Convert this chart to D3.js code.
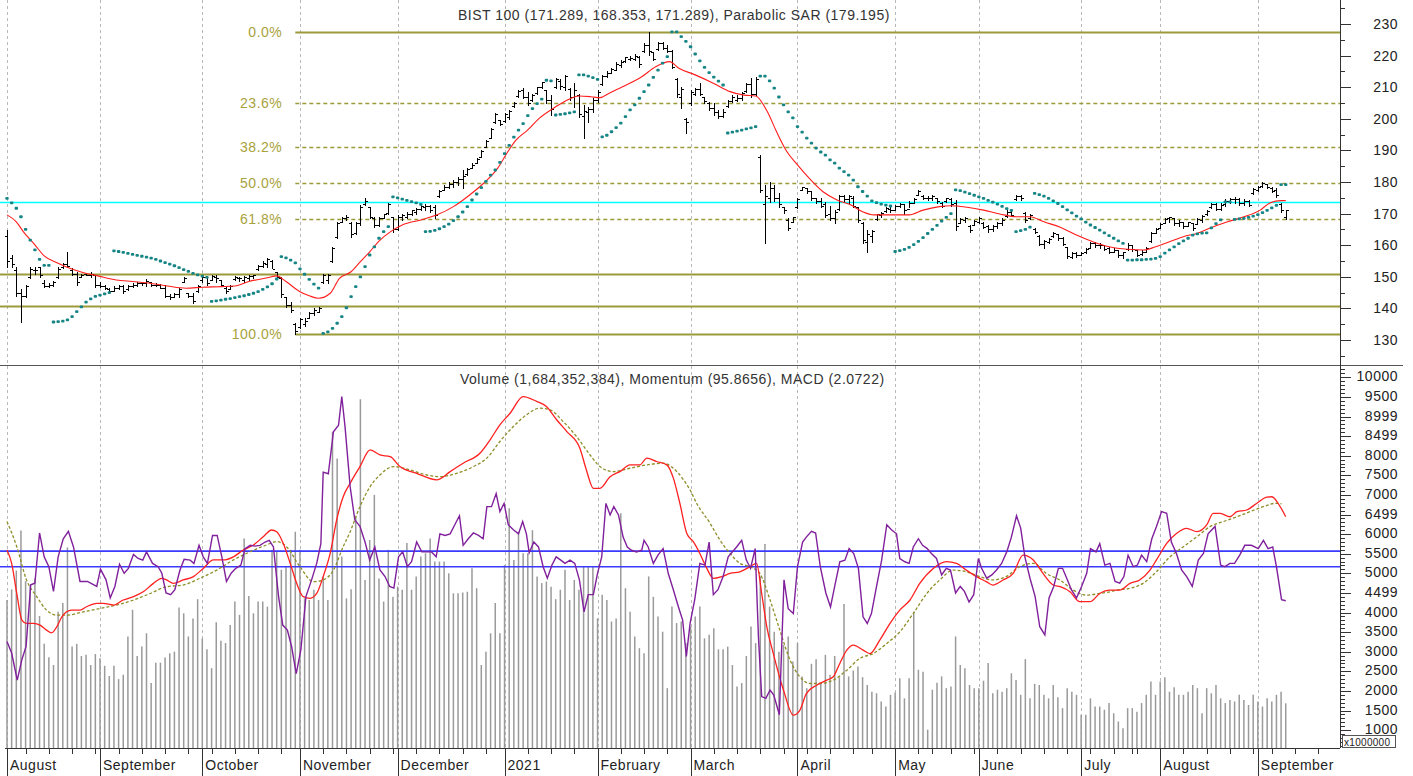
<!DOCTYPE html>
<html>
<head>
<meta charset="utf-8">
<script src="https://cdn.jsdelivr.net/npm/d3@7"></script>
<style>
  body { margin: 0; background: #fff; }
  svg { display: block; }
  text { font-family: "Liberation Sans", Arial, sans-serif; letter-spacing: 0.5px; }
</style>
</head>
<body>
<svg id="chart" width="1413" height="776"></svg>
<script>
// ---- time axis (bar index of each month start / weekly tick) ----
var monthStarts = [0, 20, 42, 63, 84, 107, 127, 147, 170, 191, 209, 231, 248, 269]
var monthLabels = ["August", "September", "October", "November", "December", "2021", "February", "March", "April", "May", "June", "July", "August", "September"]
var weekTicks = [4,9,14,19,24,29,34,39,44,49,54,59,63,68,73,78,83,88,93,98,103,107,112,117,122,127,132,137,142,147,152,157,162,167,172,177,182,186,191,196,199,203,208,213,218,223,228,233,238,242,243,248,253,258,263,268,272,277,282]

// ---- BIST 100 daily bars (x1000 pts) ----
var highs = [
  164.8,157,153,146,147.4,153,153,153,149,148,148.8,153.2,154.4,157.8,152.8,151.5,151,151,151.5,150.6,
  148.5,147.5,146.6,147,147.5,147.5,147.3,148,148.5,148.5,149.2,148.5,148,147.6,147.3,144.5,145,146.5,150,145,145,147.3,
  150.6,150.3,150.6,150.6,149,146.8,147.5,150.3,150,150.3,150.6,150.6,153.7,155,156,155.3,151.6,150,143.7,142,135.4,
  137,137,139,140,140.4,150.9,150.9,159.5,167.4,169,169.5,167.4,167.4,172.7,175,172.2,169,169,170,173.4,169,
  169.6,170,170.6,171.2,171.7,172.7,173,172.7,172.7,177.5,179,180,180.6,181.5,183.8,184.4,186,187.6,190,193.3,197,201.8,199.6,
  201.8,202.8,205.4,209,209.7,208.6,208,210.2,211.7,209,207.5,212.9,212.5,213.9,209.7,211.3,208,204.4,203.8,206.6,
  209,213.9,215,216,218,218.6,219.7,220,220.5,220,224,227.5,221.2,224.4,224.4,223.5,221.8,212.9,210.2,200.3,
  209,209.7,211.3,207,205.4,204.9,202.8,203,206,207.5,207.5,208.6,211.2,213,213.3,188.5,179,180,179,176.5,172.2,168.5,169,
  175,178.5,178,177,175,175,173.8,172.5,171,175.9,176,176,175.5,172.2,167.4,164.8,164.8,170,170.6,172.2,172.5,
  172.7,173.5,173,174,174.8,177.5,175.8,175.5,176,175,173.8,175,175,174.3,168.5,169,166.4,168,
  169,167.4,166.4,166.4,167.5,168.5,171,171,176,176,170.6,170,165.4,163.2,161.6,162.3,164.3,163.5,162.7,159.5,158,158,
  158,159,161.1,161.1,160.6,160,159.5,159,158.5,158,160.6,160,158.5,158.5,159.5,164.3,165.4,
  167,168.5,169,168.5,168,167.5,167.5,167,168.5,169.6,171,173.3,173.5,173.3,174.5,175,175.3,174.8,174.5,174.3,178,
  178.8,180,179.5,178.3,178,173.3,171.289
]
var lows = [
  153.1,153,144,135.7,143.6,149.6,151,150,146.8,146.8,147,149.6,152.8,153,150.6,147.4,150,150.5,150,146.8,
  146.9,146,145,145.5,146,145,145.8,146.8,147.2,147.5,147.2,147,147,146.3,143.7,143,143.5,143.5,148.5,143.5,141.8,145.3,
  148.5,147.4,149,148.5,147,145,146,149,148.8,148.5,149,149.6,152.2,153,153,152.8,149.5,143.7,140.5,138.8,131.9,
  133.8,134.5,137,137.8,138.9,148,148,154.8,162.2,167.4,168,162.7,163.5,166.4,172.7,168.5,165.9,166,168.6,170,164.3,
  164.8,168,168.5,169.5,170,171,171,170.5,168.7,175.4,177.5,178,178.5,179,178,182.2,184.5,186,187.9,191,193.9,198.7,198,
  199,200,203.8,207,206.6,204.4,205.5,208,209.6,205,201.2,209.7,209.3,209,206,203.7,200.6,194,199,202,
  205.4,210.7,213.3,214.4,215.4,216.5,218,218.6,218.6,216.5,221.2,220.2,218.6,221.8,222,221,216,207,203.3,195.5,
  204.4,207.5,207.5,204.9,202.8,201.2,200.2,200.5,203.8,205.4,205.5,206,208.6,207,207.5,176.8,160.7,173.8,174,172.2,170.1,164.8,167.4,
  171.8,177.5,176.5,174.3,173.4,172,169,168,167,171,173.8,173.5,172,167.4,160.6,158,161.1,168,169,170.6,170.5,
  171.1,172,170,172,173.3,175.9,174.5,174.3,174.2,173.5,172.2,173.8,172.5,164.8,166.9,167.4,164.3,166.4,
  167,165.3,164.3,164.5,165.5,166.4,169,169.2,174.3,174.3,167.4,168.2,163.9,160,159.1,160.7,162.7,161.8,160,155.9,155.9,156.3,
  156.9,157.5,159,159.5,159,158.5,157.4,157.7,156.4,155.9,158.5,158.3,156.5,157,158,161.1,163.8,
  165.4,166.9,167.4,166.5,166,165.5,166,164.8,166.7,167.4,169.5,171.7,171,171.1,172.5,173.5,173.3,172.7,172.7,172.5,176.3,
  177.2,178.5,178,176.8,175.4,170.6,168.353
]
var opens = [
  163,156,152,145,144,150,152,153,148,147,147.5,150,153,154,152,151,150,150.8,150.5,150.5,
  147.5,147,146,145.5,146.5,147,146,147,147.5,148,148,148.5,147.5,147.3,146.5,144,143.5,144.5,148.5,145,144,145.5,
  149,150,149,150,149,146.5,146,149.2,149.5,149,149.5,150.3,152.5,153.5,154,155,151.5,149.5,143.5,141,135,
  134,135,137,138.5,139,148.2,149,155,162.5,167.5,168.5,167,164,167,173,172,168.5,166.5,168.6,170.2,169,
  165,169,169,170,170.5,171.5,172,172.5,172,175.5,177.5,178.5,179.5,180,181,182.5,184.5,186,188,191,194,199,199.5,
  199.2,200.5,204,207.2,209,207,206,208.2,210,209,206,210,212,210,209.5,207,207.5,201,202,203,
  206,211,213.5,214.5,215.5,217,218.2,219,219,219.5,221.5,223.5,221,222,224,222.5,221.5,212.5,207,200,
  205,208,209.5,207,205,203.5,202,201,204,205.5,206,206.5,208.8,211,208,188,173,175,178,175,172,168,167.5,
  172,177.6,178,177,175,174,173,170,168.5,171.5,175.5,174.5,175,172,167,161,163,168.2,169.5,170.8,171.5,
  171.2,172.5,173,171.5,173.5,176,175.5,175,174.8,175,173.5,174,174.5,173.5,167,168,166,166.5,
  167.5,167,166,165,166,167,169.2,170.5,174.5,175.5,170.3,168.5,165.2,163,160.5,161,162.8,163.5,162.3,159.3,156.2,157.5,
  157,157.8,159.2,160.8,160,160,159,158,158.5,157,158.7,160,158.5,157.2,158,161.2,164,
  165.5,167,168.5,168.5,167,167.5,166,167,166.8,168,169.8,172,173,171.5,173,174,174.5,174.5,173.3,174,176.5,
  177.5,178.6,179.5,178.2,177.5,173,169
]
var closes = [
  155,154,145,144,147,152.5,152,150.5,147,147.5,148.5,152.5,154,153.5,151,148.5,150.7,150.6,151,147.5,
  147,146.5,145.5,146.5,147,145.5,147,147.5,148,148,148.8,147.5,147.3,146.5,144,143.5,144.5,146,149.5,144,142.5,147,
  150,148,150.3,149.5,147.5,145.5,147,150,149.5,150,150.3,150.5,153.3,154.5,155.5,152.5,150,144.5,141,139.5,133,
  136.5,136,138.5,139.5,140,150.5,150.5,159,167,168.5,169,163.5,167,172,174,169,166.5,168.5,169.8,173,165,
  169,169.5,170,171,171.5,172.5,172.5,171,169.5,177,178.5,179.5,180,181,182,184,185.5,187.3,189.7,193,196.7,201.5,198.5,
  201.5,202.5,205,208.8,207,205,207.5,210,211.5,206,203,212.5,210.5,213.5,207,209,201.5,202.5,203,206,
  208.5,213.5,214.5,215.8,217.5,218,219.5,219.2,220,217.5,223.5,221.5,219,224,222.5,221.5,216.5,208,209.5,199,
  208.5,209.5,208,205.5,203.5,202,201,202,205.5,207,206.5,208.2,211,208,212.5,177.5,175.5,178,175,173,171,165.5,168.8,
  174.5,178.3,177,174.8,174,172.5,169.5,168.5,170.5,175.5,174.5,175.5,172.5,168,161.5,163.5,164.5,169.8,170.3,171.8,171,
  172.5,173,171,173.5,174.5,177.2,175,174.8,175.5,174,172.5,174.8,173,166,168.2,168.7,164.8,167.7,
  168.5,165.8,165,166,167,168,170.5,169.5,175.5,174.8,168,169.5,164.2,160.5,161.2,162,164,162.2,160.5,156.5,157.5,156.8,
  157.5,158.7,160.8,160,160.2,158.8,158,158.6,156.8,157.8,160.2,158.7,157,158,159.2,164,165.2,
  166.8,168.2,168.8,167,167.5,166,167.2,165.5,168.3,169.3,170.8,173,171.5,172.8,174,174.5,174.5,173.2,174,172.8,177.8,
  178.5,179.8,178.4,177.2,175.8,171,171.289
]

// Parabolic SAR, one value per bar
var sar = [
  174.8,173.4,171.7,169,165,161.6,158.5,155.5,153.6,153.6,
  135.7,135.8,136,136.4,137.4,139,140.5,142,143,143.8,144.2,144.6,145,
  158.2,158,157.7,157.4,157.1,156.8,156.5,156.2,155.9,155.5,155,154.5,154,153.5,152.9,152.3,151.7,151.1,150.6,150.2,149.8,
  142.2,142.4,142.6,142.9,143.1,143.4,143.7,144,144.4,144.8,145.3,146,146.8,147.8,149.3,
  156.4,156,155.3,154.4,152.5,150.8,149.2,147.7,146.4,
  132.1,132.6,133.7,135.3,137.4,140.2,143.7,146.9,150,153.2,156.9,159.5,162.2,164.3,165.9,
  175.3,175,174.6,174.2,173.8,173.4,172.9,
  164.3,164.4,164.7,165.2,165.9,166.7,167.8,169,170.5,172.2,174.3,176.2,178.2,180.2,182.2,183.8,186.2,189,191.6,194.2,196.4,198.5,201,203.2,204.8,206.2,
  212.2,212,
  201.2,201.4,201.6,201.9,202.2,
  213.9,213.9,213.5,213,212.5,
  194.3,194.8,195.9,197.2,198.6,200.7,202.8,204.4,206.5,208.6,210.7,213.1,215.4,217.6,219.7,
  227.5,227.5,226,224.5,222.8,220.5,218.3,216.3,214.6,213.2,211.9,210.7,
  195.5,195.8,196.1,196.4,196.8,197.1,197.5,
  213.5,213.5,212,209.7,206.9,204.4,202.2,200.3,197.5,195.8,193.9,192.3,190.7,189.5,188.5,187,186,184.4,183.3,182.2,180.6,178.5,177,175.5,174,173.5,173,172.7,172.4,
  158,158.3,158.7,159.3,160.2,161.2,162.4,163.7,165,166.3,167.6,168.8,170,
  177.5,177.3,176.8,176.3,175.8,175.3,174.8,174.2,173.6,173,172.3,171.6,171,
  164.3,164.6,165,165.7,
  176.4,176,175.5,174.8,174,173.2,172.2,171.2,170.2,169.2,168.3,167.3,166.4,165.6,164.8,163.9,163,162.2,161.4,160.6,
  155.3,155.3,155.4,155.4,155.5,155.6,155.8,156.4,157.5,158.5,159.5,160.5,161.4,162.2,163.2,163.6,163.8,163.9,165.5,166.8,168,
  173.7,173.7,
  168.2,168.3,168.5,168.8,169.2,169.7,170.3,171,171.8,172.6,
  179.195,179.195
]

// moving average [bar index, value]
var movingAvg = [[0,169.6],[2,167.4],[3.5,164.3],[6,160.1],[8,156.6],[11,154.3],[13.5,152.7],[16.5,151.3],[19.5,150.3],[23.5,149],[27,148.5],[31,147.9],[34.5,147.1],[38.5,146.4],[42,146.7],[46,146.9],[49,147.1],[52,148.5],[56,149.7],[58,150.3],[60,148.5],[63,145.3],[65,144],[67,143.2],[69.5,144.8],[71.5,149.5],[74,151.6],[76,154.8],[78,157.9],[80,161.3],[82.5,164.3],[85,166.4],[89,168],[92.5,169.6],[96,172.2],[99.5,175.9],[102.5,179.6],[105.5,184.3],[107.5,189.1],[109.5,193.3],[112,196.5],[114.5,200.2],[118,203.8],[121,206.3],[123,207.2],[125.5,207],[127.5,206.7],[129.5,208.1],[132.5,210.2],[136.5,213.3],[139.5,216.5],[142.5,218.1],[144.5,216],[148,213.9],[152,211.2],[155.5,208.6],[158.5,207.5],[161,207.2],[163.5,202.3],[165.5,195.9],[167.5,190.1],[170,185.4],[172.5,181.2],[175.5,176.9],[178.5,174.3],[181.5,172.7],[184,170.6],[186.5,169.6],[191,169.6],[194,169.6],[197,171.1],[200.5,172.2],[203,172.5],[206.5,172],[210,171.1],[213.5,169.9],[217,169],[220,169],[223,167.4],[226.5,165.7],[230,163.2],[233.5,161.1],[237,159.5],[241,158.7],[244.5,158.5],[247,159.5],[250,161.1],[253,162.7],[256,163.8],[258.5,165.3],[262.5,167.4],[266,169],[269.5,171.1],[271.5,173.3],[274,174.1],[275,174.1]]

// Fibonacci retracement + horizontal levels
var fibHigh = 227.5
var fibLow = 131.9
var fibRatios = [0, 0.236, 0.382, 0.5, 0.618, 1]
var fibLabels = ["0.0%", "23.6%", "38.2%", "50.0%", "61.8%", "100.0%"]
var supportLevels = [150.9, 140.9]
var cyanLevel = 173.7

// ---- lower panel ----
// volume, millions
var volume = [
  4320,4590,5070,6090,4800,4700,4870,3910,3200,2860,2660,4020,4240,5660,3130,3200,2890,2920,2660,2940,
  2830,2640,2380,2640,2300,2410,3390,4070,2890,3130,3470,2200,2720,2720,2850,2960,3000,4130,3980,3390,3850,4340,
  3340,3060,2580,3750,3280,3220,3680,4280,3940,5890,4420,3980,4280,4280,4150,5600,5550,5090,5170,5600,6060,
  5600,4360,4320,4580,4320,4920,4320,8610,7930,5430,4360,4590,6450,9440,4830,5850,7000,4870,4280,5600,4400,
  4660,4580,5770,4580,4920,5430,5510,5890,5300,5300,5300,5000,4490,4490,4510,4530,5130,4620,2660,3000,3470,4240,3470,
  5210,6660,5340,6060,5510,5510,6100,4920,4750,4790,4660,4340,4580,5090,4320,4830,4580,5170,5170,5170,
  3850,4450,4320,3770,3850,6530,4620,4020,3390,3090,2960,4920,4400,3900,3510,2070,4150,3730,3770,3220,
  3640,3900,4150,3340,3430,3600,3060,3060,3130,2660,2110,2200,2890,3640,3220,4920,5750,4150,3510,3000,3170,3390,2750,
  3220,2370,2070,2690,2810,2200,2920,2410,2890,2350,4220,2370,2520,2620,2350,2150,1980,1940,1730,1600,1900,
  1960,2320,1810,2320,4020,2540,2490,1010,2030,2210,2370,2070,2110,3390,2660,2580,2150,2070,
  2070,2260,2710,1940,2030,1980,2070,2450,2280,1900,2810,1810,2180,2150,1900,1810,2150,1840,1560,2070,1980,1900,
  1390,1390,1810,1600,1600,1520,1690,1430,1220,1050,1560,1560,1470,1690,1900,2240,1900,
  2240,2350,1980,2090,1900,1900,1980,2150,2070,1430,2070,1940,2150,1810,1690,1770,1730,1900,1770,1640,1900,
  1730,1600,1810,1730,1900,1980,1684
]

// momentum [bar index, value]
var momentum = [[0,90.9],[1,89.5],[2.2,86.2],[3.2,88.7],[4.1,90.3],[5.1,97.8],[6,98],[7,104.1],[8,101.2],[9,100],[10,97],[11,101.2],[12.1,103.4],[13.2,104.3],[14.3,102.4],[15.7,98.2],[17.3,98.2],[19.3,97.6],[20.1,99.7],[21.3,98.4],[22.2,96.2],[23.2,97.6],[24.2,100.3],[25.2,99.2],[26.1,99.8],[27.2,101.5],[28.2,101],[29.2,100.8],[30,101.8],[31.3,100.4],[32.5,100],[33.3,99.2],[34.2,96.8],[35.2,96.6],[36.1,97.2],[37.2,99.6],[38.1,100.9],[39.4,100.8],[40.2,100.4],[41.3,102.6],[42.2,101.2],[43.1,100.4],[44.2,103.8],[45.2,103.8],[46.2,101.2],[47.2,98.2],[48.2,99.2],[49.2,99.8],[50.3,100.2],[51.2,102.2],[52.3,102.6],[53.3,102.5],[54.4,102.6],[55.5,103],[56.4,103.2],[57.3,102.4],[58.4,96.4],[59.3,92.9],[60.3,92.3],[61.2,90.3],[62.2,87],[63.2,89.9],[64.3,96.4],[65.5,98.4],[66.6,100.4],[67.5,102.8],[68,111.5],[69.1,111.3],[70.2,116.4],[71.3,117.2],[72,120.7],[72.7,117],[73.8,109.7],[74.8,105.7],[75.9,104.9],[77,103],[78,100.8],[79.1,102.4],[80.2,99.6],[81.3,98.8],[82.3,97.6],[83.2,97.4],[84.2,101.2],[85.1,101.8],[86.1,100],[87,100.6],[88.1,103],[89.2,101.8],[90.2,101.8],[91.3,101.8],[92.3,101.2],[93.1,104],[94.2,103.8],[95.3,104],[96.3,105.1],[97.3,106.2],[98.1,102.6],[99.2,103.4],[100.3,104.1],[101.4,103.8],[102.4,103.4],[103.2,107.3],[104.2,107.3],[105.2,108.9],[106,106.7],[106.9,107.7],[107.8,105.1],[108.9,104.5],[110,104],[110.9,105.5],[111.7,104],[112.3,101.7],[113.3,103],[114.3,102.4],[115.3,100],[116.2,98.6],[117.2,100.2],[118.1,101.2],[119.1,100.8],[120,100.4],[121.1,100.8],[122.1,100.4],[123.1,98.4],[124.1,94.5],[125,96.6],[126.1,96.6],[127,99.2],[127.9,101.2],[128.8,107.7],[129.7,106.3],[130.5,107.3],[131.5,106.3],[132.5,103.6],[133.4,102.4],[134.3,102],[135.4,101.8],[136.5,102],[137,103.2],[137.9,102.4],[139,100.4],[140,101.4],[141.1,102.2],[142.2,99.2],[143.3,97.2],[144.4,95.1],[145.3,93.5],[146.1,89.1],[146.9,93.1],[147.9,96],[149,100.4],[150.1,100.2],[151,103],[151.9,96.6],[152.9,97.2],[154,98.8],[155.1,101.2],[156.9,102.4],[158,103.2],[159,100.8],[159.9,99.8],[160.9,102.2],[161.6,91.5],[162.3,84.2],[163.2,84],[164.1,85],[164.9,84.4],[166.1,82],[167.1,98.4],[168,94.9],[169.1,94.3],[170,100],[171.1,103],[171.9,103.6],[173,104.3],[173.9,104.1],[174.9,100],[176.1,96.8],[177.1,95.1],[178,97.6],[179.1,100.6],[180.2,100.8],[181.1,102.2],[182.1,101.6],[183.1,99.8],[184.1,93.9],[185,93.1],[185.9,94.3],[187,97.6],[188.1,100.8],[189.2,105.1],[190.2,104.5],[191.3,104],[192,101],[193.1,100.6],[194,100.4],[194.9,102.4],[196,103.4],[196.9,102.6],[197.9,102.2],[198.8,101.6],[199.9,101],[201,99],[202,99.8],[202.9,99.6],[204,96.8],[205,97.6],[205.9,97],[206.9,95.7],[207.9,96.6],[208.9,101],[209.6,99.8],[210.7,98.6],[211.8,99],[212.8,99.6],[213.9,100.4],[215,101.8],[216,103.6],[217.1,106.2],[218,104.7],[218.9,101.2],[220,98.6],[221.1,96.4],[222.1,92.7],[223.2,91.7],[224.1,96.2],[225.1,97.6],[226.1,99.8],[227,99.8],[227.9,98.6],[228.9,97.2],[230,96.2],[231.1,97.6],[232.2,99.2],[233,102.2],[234.2,101.8],[235,102.8],[236.1,100.2],[237.2,100.4],[238.3,98.2],[239.3,98],[240.2,98.8],[241.1,101.4],[242.2,100],[243.1,100.2],[244,101.4],[245.1,100.6],[246.2,103.4],[247.2,104.9],[248.3,106.7],[249.4,106.5],[250.4,103],[251.5,101.6],[252.6,99.6],[253.7,98.8],[254.9,97.6],[256.2,100.8],[257.3,101.6],[258.3,104],[259.8,104.9],[261,100.2],[261.9,100],[263,100.4],[264,100.4],[265.1,101.4],[266.2,102.6],[267.6,102.6],[269.1,102.2],[270.2,103.2],[271.2,102.2],[272.2,102.4],[273,100],[274.1,96],[275,95.8656]]

// MACD line and its signal [bar index, value]
var macd = [[0,0.69],[1,0.14],[2.1,-1.11],[3.2,-2.21],[4.2,-2.35],[5.7,-2.35],[7.1,-2.42],[8.5,-2.63],[9.6,-2.74],[10.7,-2.49],[11.8,-2.08],[12.8,-1.87],[13.9,-1.8],[15.7,-1.8],[17.1,-1.66],[19.3,-1.52],[20.7,-1.52],[22.9,-1.59],[25,-1.38],[27.2,-1.24],[29.3,-1.04],[31.5,-0.69],[33.3,-0.48],[34.3,-0.55],[35.8,-0.69],[37.9,-0.55],[40.1,-0.41],[42.2,-0.07],[44.4,0.28],[46.5,0.28],[48.7,0.41],[50.8,0.69],[53,0.9],[55.1,1.24],[56.9,1.52],[58,1.45],[59.4,0.97],[60.9,0.14],[62.3,-0.69],[63.7,-1.24],[65.2,-1.31],[66.6,-1.11],[68,-0.41],[69.5,0.55],[70.9,1.94],[72.3,2.9],[73.8,3.46],[75.9,4.15],[78.1,4.84],[80.2,4.63],[82.4,4.56],[84.5,4.15],[88.1,3.87],[92.4,3.6],[95.3,3.94],[98.1,4.29],[101.7,4.7],[103.9,5.26],[106,5.88],[108.2,6.36],[111,7.05],[113.9,6.85],[116,6.64],[118.2,6.09],[120.4,5.6],[123.2,4.91],[124.6,4.01],[126.1,3.25],[127.5,3.25],[129.7,3.73],[131.8,3.94],[134,4.22],[136.1,4.22],[137.6,4.5],[139.7,4.36],[141.9,4.22],[143.3,3.67],[144.7,2.63],[146.2,1.38],[147.6,1.04],[149,0.55],[150.5,-0.07],[151.9,-0.48],[153.7,-0.41],[155.5,-0.28],[157.6,-0.21],[159.8,0],[161.2,0.14],[162.3,-1.11],[163.4,-2.49],[164.8,-3.6],[167,-5.12],[169.1,-6.15],[170.5,-5.95],[171.9,-5.26],[174.1,-4.91],[176.3,-4.7],[177.7,-4.56],[179.1,-4.01],[180.6,-3.46],[182,-3.25],[184.1,-3.46],[185.6,-3.6],[187.7,-3.04],[189.9,-2.35],[192,-1.8],[194.2,-1.38],[196.3,-0.69],[199.2,-0.07],[202,0.21],[204.2,0.14],[206.3,-0.14],[208.5,-0.41],[210.6,-0.62],[212,-0.76],[214.2,-0.55],[216.4,-0.28],[218.5,0.48],[220.7,0.28],[222.8,-0.28],[225,-0.76],[226.5,-0.83],[228.6,-1.04],[230.7,-1.45],[232.9,-1.45],[235,-1.11],[237.2,-0.97],[239.3,-0.97],[241.5,-0.69],[243.6,-0.55],[245.8,-0.14],[247.2,0.28],[249.4,0.97],[251.5,1.38],[253.7,1.59],[255.9,1.45],[258,1.73],[259.4,2.21],[260.9,2.21],[263,2.07],[264.5,2.28],[266.6,2.35],[268.8,2.63],[270.9,2.88],[272,2.9],[273.8,2.49],[275,2.0722]]
var macdSignal = [[0,1.87],[2.1,0.83],[4.2,-0.55],[6.4,-1.24],[8.5,-1.8],[10.7,-2.01],[12.8,-2.01],[16.4,-1.87],[20,-1.73],[23.6,-1.59],[27.2,-1.38],[30.8,-1.11],[34.3,-0.83],[37.9,-0.76],[41.5,-0.48],[45.1,-0.14],[48.7,0.28],[52.3,0.62],[55.8,0.9],[58,1.04],[60.1,0.83],[63,0],[65.9,-0.62],[68,-0.55],[70.2,-0.14],[72.3,0.83],[73.8,1.45],[75.9,2.49],[78.1,3.32],[80.2,3.8],[83.1,4.15],[86.7,4.01],[90.3,3.8],[93.1,3.73],[96.7,3.87],[100.3,4.15],[103.2,4.5],[106,5.19],[108.9,5.81],[111.7,6.29],[114.6,6.57],[116.8,6.5],[119.6,6.02],[122.5,5.39],[125.4,4.63],[127.5,4.15],[130.4,3.94],[134,4.08],[137.6,4.22],[141.1,4.29],[143.3,4.08],[145.5,3.6],[146.9,3.18],[148.3,2.63],[151.2,1.8],[153.3,1.11],[155.5,0.55],[157.6,0.14],[159.8,0],[161.9,-0.28],[164.1,-1.38],[166.2,-2.63],[168.4,-3.87],[170.5,-4.56],[172.7,-4.84],[174.8,-4.84],[177.7,-4.7],[180.6,-4.29],[183.4,-3.8],[186.3,-3.6],[189.2,-3.18],[192,-2.7],[194.9,-1.94],[197.8,-1.11],[200.6,-0.55],[203.5,-0.14],[206.3,-0.21],[209.2,-0.41],[212,-0.55],[214.9,-0.41],[217.8,0],[220.7,0.14],[223.5,-0.28],[226.4,-0.55],[229.3,-0.97],[232.2,-1.18],[235,-1.11],[237.2,-1.04],[238.6,-0.97],[241.5,-0.9],[244.3,-0.69],[247.2,-0.21],[250.1,0.41],[253,0.83],[255.9,1.24],[258.7,1.66],[261.6,1.87],[264.5,2.07],[267.3,2.28],[270.2,2.49],[273,2.63],[274.1,2.6]]

var momentumLevels = [100, 101.9]

// axis labels
var priceTicks = [130, 140, 150, 160, 170, 180, 190, 200, 210, 220, 230]
var volTickValues = [10000, 9500, 9000, 8500, 8000, 7500, 7000, 6500, 6000, 5500, 5000, 4500, 4000, 3500, 3000, 2500, 2000, 1500, 1000]
var volTickLabels = ["10000", "9500", "8999", "8499", "8000", "7500", "7000", "6499", "6000", "5500", "5000", "4499", "4000", "3500", "3000", "2500", "2000", "1500", "1000"]

var topTitle = "BIST 100 (171.289, 168.353, 171.289), Parabolic SAR (179.195)"
var bottomTitle = "Volume (1,684,352,384), Momentum (95.8656), MACD (2.0722)"

// ---------------------------------------------------------------
var dims = {
  plotRight: 1340,
  topPanel: [0, 365],
  botPanel: [366, 748]
}

var svg = d3.select("#chart")

var x = d3.scaleLinear().domain([0, 286.67]).range([7, dims.plotRight])
var yPrice = d3.scaleLinear().domain([130, 230]).range([340, 24])
var yVol = d3.scaleLinear().domain([1000, 10000]).range([730.1, 377.3])
var yMom = d3.scaleLinear().domain([95.8656, 100]).range([600.7, 566.7])
var yMacd = d3.scaleLinear().domain([0, 2.0722]).range([566.7, 516.7])

var px = function(i){ return Math.round(x(i)) + 0.5 }
var crisp = function(v){ return Math.round(v) + 0.5 }

var defs = svg.append("defs")
defs.append("clipPath").attr("id", "clipTop")
  .append("rect").attr("x", 0).attr("y", 0).attr("width", dims.plotRight).attr("height", dims.topPanel[1])
defs.append("clipPath").attr("id", "clipBot")
  .append("rect").attr("x", 0).attr("y", dims.botPanel[0]).attr("width", dims.plotRight).attr("height", dims.botPanel[1] - dims.botPanel[0])

// month grid lines through both panels
svg.append("g").selectAll("line")
  .data(monthStarts)
  .enter()
  .append("line")
    .attr("x1", d => px(d)).attr("x2", d => px(d))
    .attr("y1", 0).attr("y2", dims.botPanel[1])
    .attr("stroke", "#b8b8b8")
    .attr("stroke-dasharray", "3,3")

// ================= top panel =================
var topG = svg.append("g").attr("clip-path", "url(#clipTop)")

// full-width levels
topG.selectAll("line.support")
  .data(supportLevels)
  .enter()
  .append("line")
    .attr("x1", 0).attr("x2", dims.plotRight)
    .attr("y1", d => crisp(yPrice(d))).attr("y2", d => crisp(yPrice(d)))
    .attr("stroke", "#9c9a3a").attr("stroke-width", 2)

// fibonacci lines
var fibStart = 62
var fibData = fibRatios.map((r, k) => ({ ratio: r, label: fibLabels[k], value: fibHigh - r * (fibHigh - fibLow) }))
topG.selectAll("line.fib")
  .data(fibData)
  .enter()
  .append("line")
    .attr("x1", x(fibStart)).attr("x2", dims.plotRight)
    .attr("y1", d => crisp(yPrice(d.value))).attr("y2", d => crisp(yPrice(d.value)))
    .attr("stroke", "#9c9a3a")
    .attr("stroke-width", d => (d.ratio == 0 || d.ratio == 1) ? 2 : 1.4)
    .attr("stroke-dasharray", d => (d.ratio == 0 || d.ratio == 1) ? null : "4,3")
svg.append("g").selectAll("text")
  .data(fibData)
  .enter()
  .append("text")
    .attr("x", x(fibStart) - 13)
    .attr("y", d => yPrice(d.value))
    .attr("dy", "0.36em")
    .attr("text-anchor", "end")
    .style("font-size", "14px")
    .attr("fill", "#a8a23c")
    .text(d => d.label)

topG.append("line")
  .attr("x1", 0).attr("x2", dims.plotRight)
  .attr("y1", crisp(yPrice(cyanLevel))).attr("y2", crisp(yPrice(cyanLevel)))
  .attr("stroke", "#00ffff").attr("stroke-width", 1.6)

// price bars
topG.append("g").selectAll("path")
  .data(d3.range(highs.length))
  .enter()
  .append("path")
    .attr("d", function(i){
      var cx = px(i)
      return "M" + cx + "," + Math.round(yPrice(highs[i])) + "V" + Math.round(yPrice(lows[i]) + 1) +
        "M" + (cx - 2.5) + "," + crisp(yPrice(opens[i])) + "H" + cx +
        "M" + cx + "," + crisp(yPrice(closes[i])) + "H" + (cx + 2.5)
    })
    .attr("stroke", "#000")
    .attr("stroke-width", 1)
    .attr("fill", "none")
    .attr("shape-rendering", "crispEdges")

// moving average
topG.append("path")
  .datum(movingAvg)
  .attr("d", d3.line().x(d => x(d[0])).y(d => yPrice(d[1])).curve(d3.curveMonotoneX))
  .attr("fill", "none")
  .attr("stroke", "#ff1c1c")
  .attr("stroke-width", 1.1)

// parabolic SAR
topG.append("g").selectAll("rect")
  .data(sar)
  .enter()
  .append("rect")
    .attr("x", (d, i) => x(i) - 1.7)
    .attr("y", d => yPrice(d) - 1.4)
    .attr("width", 3.4)
    .attr("height", 2.8)
    .attr("rx", 1)
    .attr("fill", "#178585")

svg.append("text")
  .attr("x", 458).attr("y", 20)
  .style("font-size", "14px")
  .attr("fill", "#333")
  .text(topTitle)

// ================= bottom panel =================
var botG = svg.append("g").attr("clip-path", "url(#clipBot)")

botG.append("g").selectAll("line")
  .data(volume)
  .enter()
  .append("line")
    .attr("x1", (d, i) => x(i)).attr("x2", (d, i) => x(i))
    .attr("y1", d => yVol(d)).attr("y2", dims.botPanel[1])
    .attr("stroke", "#9a9a9a")
    .attr("stroke-width", 1.5)

botG.selectAll("line.lvl")
  .data(momentumLevels)
  .enter()
  .append("line")
    .attr("x1", 0).attr("x2", dims.plotRight)
    .attr("y1", d => yMom(d)).attr("y2", d => yMom(d))
    .attr("stroke", "#3a3aff").attr("stroke-width", 1.6)

botG.append("path")
  .datum(macdSignal)
  .attr("d", d3.line().x(d => x(d[0])).y(d => yMacd(d[1])).curve(d3.curveMonotoneX))
  .attr("fill", "none")
  .attr("stroke", "#8e8e28")
  .attr("stroke-width", 1.3)
  .attr("stroke-dasharray", "3,2")

botG.append("path")
  .datum(macd)
  .attr("d", d3.line().x(d => x(d[0])).y(d => yMacd(d[1])).curve(d3.curveMonotoneX))
  .attr("fill", "none")
  .attr("stroke", "#ff2020")
  .attr("stroke-width", 1.3)

botG.append("path")
  .datum(momentum)
  .attr("d", d3.line().x(d => x(d[0])).y(d => yMom(d[1])))
  .attr("fill", "none")
  .attr("stroke", "#80209c")
  .attr("stroke-width", 1.4)

svg.append("text")
  .attr("x", 460).attr("y", 384)
  .style("font-size", "14px")
  .attr("fill", "#333")
  .text(bottomTitle)

// ================= frame and axes =================
svg.append("line")
  .attr("x1", 0).attr("x2", 1403).attr("y1", 365.5).attr("y2", 365.5)
  .attr("stroke", "#555")
svg.append("line")
  .attr("x1", dims.plotRight + 0.5).attr("x2", dims.plotRight + 0.5).attr("y1", 0).attr("y2", dims.botPanel[1])
  .attr("stroke", "#333")
svg.append("line")
  .attr("x1", 5).attr("x2", dims.plotRight).attr("y1", 748.5).attr("y2", 748.5)
  .attr("stroke", "#333")

// price axis
var rightAxis = svg.append("g").attr("shape-rendering", "crispEdges")
rightAxis.selectAll("line.pt")
  .data(d3.range(125, 236, 5))
  .enter()
  .append("line")
    .attr("x1", dims.plotRight).attr("x2", d => dims.plotRight + (d % 10 == 0 ? 11 : 5))
    .attr("y1", d => crisp(yPrice(d))).attr("y2", d => crisp(yPrice(d)))
    .attr("stroke", "#333")
rightAxis.selectAll("text.pt")
  .data(priceTicks)
  .enter()
  .append("text")
    .attr("x", 1398).attr("y", d => yPrice(d)).attr("dy", "0.36em")
    .attr("text-anchor", "end")
    .style("font-size", "14px")
    .attr("fill", "#222")
    .text(d => d)

// volume axis
rightAxis.selectAll("line.vt")
  .data(d3.range(600, 10201, 100))
  .enter()
  .append("line")
    .attr("x1", dims.plotRight).attr("x2", d => dims.plotRight + (d % 500 == 0 ? 11 : 5))
    .attr("y1", d => crisp(yVol(d))).attr("y2", d => crisp(yVol(d)))
    .attr("stroke", "#333")
rightAxis.selectAll("text.vt")
  .data(volTickValues)
  .enter()
  .append("text")
    .attr("x", 1398).attr("y", d => yVol(d) - 1).attr("dy", "0.36em")
    .attr("text-anchor", "end")
    .style("font-size", "14px")
    .attr("fill", "#222")
    .text((d, k) => volTickLabels[k])

rightAxis.append("rect")
  .attr("x", 1342.5).attr("y", 735.5).attr("width", 53).attr("height", 12)
  .attr("fill", "#fff").attr("stroke", "#555")
rightAxis.append("text")
  .attr("x", 1344).attr("y", 745.5)
  .style("font-size", "10px")
  .style("letter-spacing", "0.3px")
  .attr("fill", "#222")
  .text("x1000000")

// time axis
var timeAxis = svg.append("g").attr("shape-rendering", "crispEdges")
timeAxis.selectAll("line.wk")
  .data(weekTicks)
  .enter()
  .append("line")
    .attr("x1", d => px(d)).attr("x2", d => px(d))
    .attr("y1", 748).attr("y2", 754)
    .attr("stroke", "#333")
timeAxis.selectAll("line.mo")
  .data(monthStarts)
  .enter()
  .append("line")
    .attr("x1", d => px(d)).attr("x2", d => px(d))
    .attr("y1", 748).attr("y2", 776)
    .attr("stroke", "#333")
timeAxis.selectAll("text")
  .data(monthStarts)
  .enter()
  .append("text")
    .attr("x", d => x(d) + 3).attr("y", 770)
    .style("font-size", "14px")
    .attr("fill", "#222")
    .text((d, k) => monthLabels[k])
</script>
</body>
</html>
